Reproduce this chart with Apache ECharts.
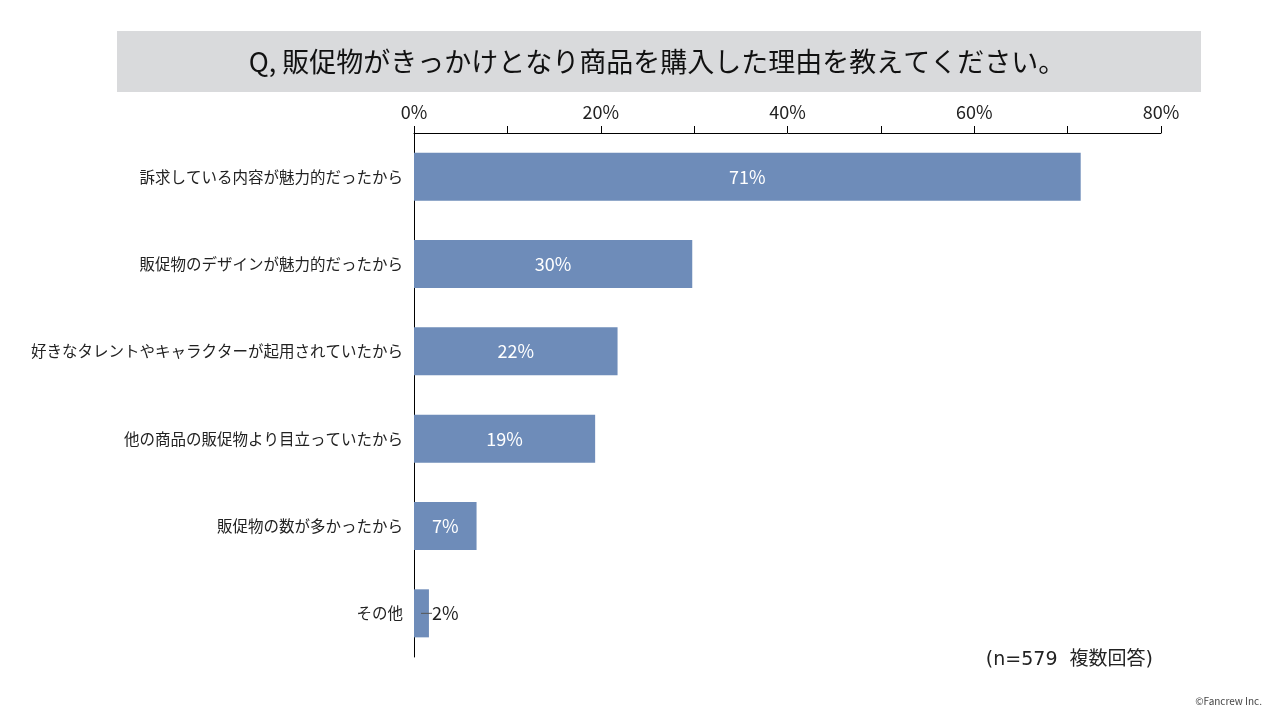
<!DOCTYPE html>
<html><head><meta charset="utf-8">
<script src="https://cdn.jsdelivr.net/npm/echarts@6/dist/echarts.min.js"></script>
<style>html,body{margin:0;padding:0;background:#fff}#c{width:1280px;height:720px}</style>
</head><body><div id="c"></div>
<script>
const titleText = 'Q, 販促物がきっかけとなり商品を購入した理由を教えてください。';
const categories = ['訴求している内容が魅力的だったから','販促物のデザインが魅力的だったから','好きなタレントやキャラクターが起用されていたから','他の商品の販促物より目立っていたから','販促物の数が多かったから','その他'];
const values = [71.4, 29.8, 21.8, 19.4, 6.7, 1.6];
const tickLabels = {0:'0%',20:'20%',40:'40%',60:'60%',80:'80%'};
const noteText = '(n=579  複数回答)';
const copyText = '©Fancrew Inc.';
const FONT = '"Noto Sans CJK JP", "Noto Sans", sans-serif';
const NOTE_FONT = '"DejaVu Sans", "Noto Sans CJK JP", sans-serif';
const BAR = '#6e8cb9';

const chart = echarts.init(document.getElementById('c'));
chart.setOption({
  animation: false,
  textStyle: {fontFamily: FONT},
  grid: {left: 414, right: 119, top: 133, bottom: 63, containLabel: false},
  xAxis: {
    type: 'value', position: 'top', min: 0, max: 80, interval: 10,
    axisLine: {show: true, lineStyle: {color: '#000', width: 1}},
    axisTick: {show: true, length: 7, lineStyle: {color: '#000'}},
    splitLine: {show: false},
    axisLabel: {color: '#222', fontSize: 18, fontFamily: FONT, margin: 12,
      formatter: v => tickLabels[v] !== undefined ? tickLabels[v] : ''}
  },
  yAxis: {
    type: 'category', inverse: true, data: categories,
    axisLine: {show: true, lineStyle: {color: '#000', width: 1}},
    axisTick: {show: false},
    axisLabel: {color: '#222', fontSize: 15.5, fontFamily: FONT, margin: 11}
  },
  series: [{
    type: 'bar', barCategoryGap: '45%',
    itemStyle: {color: BAR},
    label: {show: true, position: 'inside', color: '#fff', fontSize: 18, fontFamily: FONT,
      formatter: p => Math.round(p.value) + '%'},
    data: values.map((v, i) => {
      if (v < 4) {
        return {value: v, label: {position: 'insideLeft', distance: 7, color: '#222',
          formatter: p => '{ln|}{t|' + Math.round(p.value) + '%}',
          rich: {ln: {width: 11, height: 1, backgroundColor: '#555'}, t: {fontSize: 18, color: '#222', fontFamily: FONT}}}};
      }
      return v;
    })
  }],
  graphic: [
    {type: 'rect', shape: {x: 117, y: 31, width: 1084, height: 61}, style: {fill: '#d9dadc'}, z: -1},
    {type: 'text', x: 657, y: 62, style: {text: titleText, fontSize: 27, fontFamily: FONT, fill: '#111', align: 'center', verticalAlign: 'middle'}},
    {type: 'text', x: 1153, y: 660, style: {text: noteText, fontSize: 19, fontFamily: NOTE_FONT, fill: '#222', align: 'right', verticalAlign: 'middle'}},
    {type: 'text', x: 1262, y: 701, style: {text: copyText, fontSize: 10, fontFamily: FONT, fill: '#444', align: 'right', verticalAlign: 'middle'}}
  ]
});
</script></body></html>
